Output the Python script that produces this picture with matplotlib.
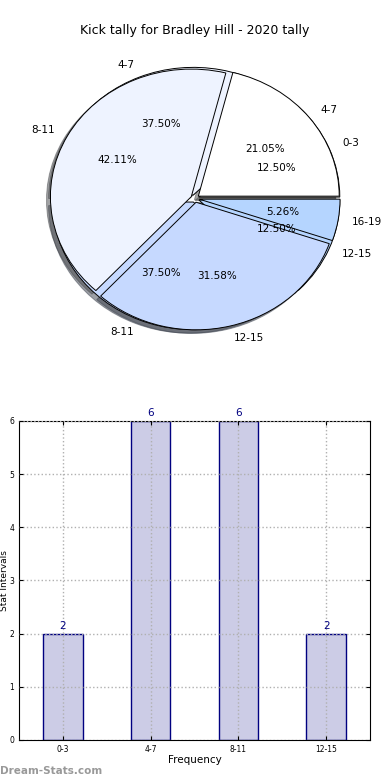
import matplotlib
matplotlib.use("Agg")
import matplotlib.pyplot as plt

title = "Kick tally for Bradley Hill - 2020 tally"
cats1 = ["0-3", "4-7", "8-11", "12-15"]
vals1 = [2, 6, 6, 2]
cats2 = ["4-7", "8-11", "12-15", "16-19"]
vals2 = [4, 8, 6, 1]
pie_colors = ["#ffffff", "#eef3ff", "#c6d9ff", "#b5d5ff"]

bar_cats = ["0-3", "4-7", "8-11", "12-15"]
bar_vals = [2, 6, 6, 2]

fig = plt.figure(figsize=(3.9, 7.8), dpi=100)

ax1 = fig.add_axes([0.0485, 0.541, 0.903, 0.409])
wp = dict(edgecolor="black", linewidth=0.7)
tp = dict(fontsize=7.5)
ax1.pie(vals1, labels=cats1, colors=pie_colors, explode=[0.03] * 4,
        autopct="%1.2f%%", shadow=True, wedgeprops=wp, textprops=tp)
ax1.pie(vals2, labels=cats2, colors=pie_colors, explode=[0.03] * 4,
        autopct="%1.2f%%", shadow=True, wedgeprops=wp, textprops=tp)
ax1.set_aspect("auto")
ax1.set_xlim(-1.25, 1.25)
ax1.set_ylim(-1.25, 1.25)
fig.text(0.5, 0.961, title, ha="center", va="center", fontsize=9)

ax2 = fig.add_axes([0.0487, 0.0513, 0.9, 0.409])
x = list(range(len(bar_cats)))
bars = ax2.bar(x, bar_vals, width=0.45, color="#ccccE6", edgecolor="#000080",
               linewidth=1, zorder=1)
for xi, v in zip(x, bar_vals):
    ax2.text(xi, v + 0.05, str(v), ha="center", va="bottom", color="#000080",
             fontsize=7.5)
ax2.set_xlim(-0.5, 3.5)
ax2.set_ylim(0, 6)
ax2.set_xticks(x)
ax2.set_xticklabels(bar_cats)
ax2.set_yticks(range(0, 7))
ax2.tick_params(labelsize=5.5, direction="in", top=True, right=True, length=3)
ax2.grid(True, linestyle=":", color="#b0b0b0", linewidth=1)
ax2.set_axisbelow(False)
ax2.set_xlabel("Frequency", fontsize=7.5, labelpad=1)
ax2.set_ylabel("Stat Intervals", fontsize=6.5)
ax2.yaxis.set_label_coords(-0.028, 0.5)

fig.text(0.0, 0.012, "Dream-Stats.com", color="#999999", fontsize=7.5,
         fontweight="bold", ha="left", va="center")

fig.savefig("out.png", dpi=100)
